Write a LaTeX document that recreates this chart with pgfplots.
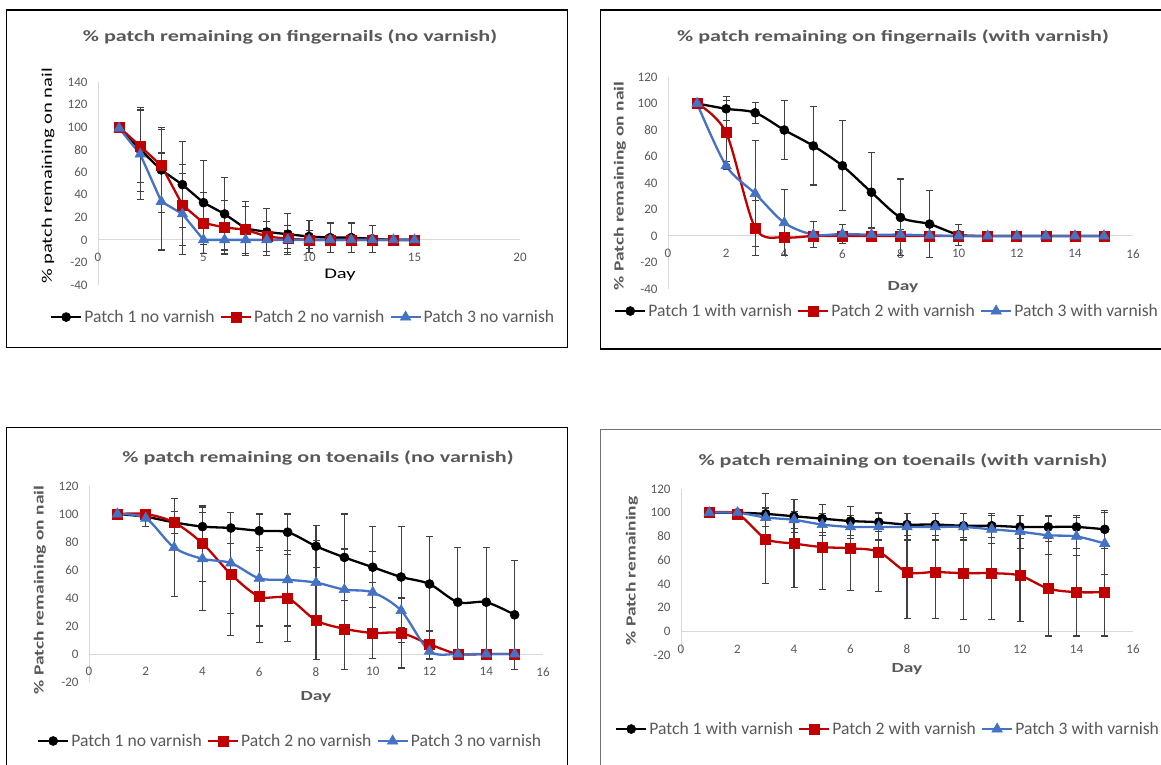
\documentclass[border=0pt]{standalone}
\usepackage{fontspec}
\setmainfont[FakeStretch=1.4]{Carlito}
\newfontfamily\plainfam{Carlito}
\usepackage{pgfplots}
\usepackage{pgfplotstable}
\pgfplotsset{compat=1.18}
\definecolor{txtgray}{HTML}{595959}
\definecolor{axisgray}{HTML}{D9D9D9}
\definecolor{errgray}{HTML}{404040}
\definecolor{cred}{HTML}{C00000}
\definecolor{cblue}{HTML}{4472C4}
\newcommand\titlefont{\fontsize{15.8}{18}\selectfont\bfseries}
\newcommand\lblfont{\fontsize{14.7}{17}\selectfont}
\newcommand\blblfont{\fontsize{13.9}{16}\selectfont\bfseries}
\newcommand\tickfont{\plainfam\fontsize{13}{15}\selectfont}
\newcommand\legfont{\plainfam\fontsize{17.6}{20}\selectfont}

% fingernails, no varnish
\pgfplotstableread{
x a ea b eb c ec
1 100 0 100 0 99 0
2 80 37 83 32 76 40
3 62 38 66 32 34 43
4 49 38 31 36 23 36
5 33 37 15 27 0 12
6 23 32 11 24 0 12
7 10 24 9 21 0 12
8 7 21 3 13 0 10
9 5 18 1 12 0 8
10 3 14 0 8 0 0
11 2 13 0 0 0 0
12 2 13 0 0 0 0
13 1 12 0 0 0 0
14 0 0 0 0 0 0
15 0 0 0 0 0 0
}\tA
% fingernails, with varnish
\pgfplotstableread{
x a ea b eb c ec
1 100 0 100 0 100 0
2 96 9 78 24 53 3
3 93 8 6 21 32 40
4 80 22 -1 0 10 25
5 68 29.5 0 0 1 10
6 53 34 0 0 1.5 7
7 33 30 0 0 1 5
8 14 29 0 0 1 4
9 9 25 0 0 0.5 0
10 1 8 0 0 0 0
11 0 0 0 0 0 0
12 0 0 0 0 0 0
13 0 0 0 0 0 0
14 0 0 0 0 0 0
15 0 0 0 0 0 0
}\tB
% toenails, no varnish
\pgfplotstableread{
x a ea b eb c ec
1 100 0 100 0 100 0
2 98 2 100 0 97 6
3 94 8 94 8 76 35
4 91 10 79 27 68 37
5 90 11 57 44 65 36
6 88 12 41 33 54 34
7 87 13 40 31 53 33
8 77 15 24 28 51 30
9 69 31 18 29 46 29
10 62 11 15 18 44 47
11 55 36 15 25 31 23
12 50 34 7 10 2 6
13 37 39 0 0 0 0
14 37 39 0 0 0 0
15 28 39 0 0 0 0
}\tC
% toenails, with varnish
\pgfplotstableread{
x a ea b eb c ec
1 100 0 100 0 100 0
2 100 1 99 1 100 1
3 99 5 78 38 96 8
4 97 14 74 37 94 7
5 95 12 71 36 90 9
6 93 12 70 35.5 88 10
7 92 8 67 33.5 88 11
8 90 9 50 39 88 11
9 90 9 50 39 88 11
10 89 10 49 39 88 11
11 89 10 49 39 86 12
12 88 10 47 39 84 14
13 88 10 36 40 81 16
14 88 10 33 37 80 16
15 86 16 33 37 74 26
}\tD

\pgfplotsset{
  panel/.style={
    scale only axis, anchor=south west,
    axis x line*=middle, axis y line*=left,
    axis line style={draw=axisgray, line width=1pt, -},
    tick style={draw=none}, major tick length=0pt,
    hide obscured x ticks=false, hide obscured y ticks=false,
    /pgf/number format/assume math mode=true,
    ticklabel style={font=\tickfont, text=txtgray},
    xticklabel style={yshift=-10pt},
    yticklabel style={xshift=-7pt},
    clip=false,
    legend columns=3,
    legend cell align=left,
    legend style={draw=none, fill=none, font=\legfont, text=txtgray, anchor=center,
      inner sep=0pt, nodes={inner xsep=2pt},
      /tikz/every even column/.append style={column sep=3pt}},
    legend image code/.code={%
      \draw[mark repeat=2,mark phase=2] plot coordinates {(0pt,0pt) (15pt,0pt) (30pt,0pt)};},
  },
  errs/.style={error bars/.cd, y dir=both, y explicit,
    error bar style={line width=1.1pt, draw=errgray, solid},
    error mark options={rotate=90, mark size=3.5pt, line width=1.1pt, draw=errgray}},
  s1/.style={black, line width=2.3pt, mark=*, mark size=4.5pt, mark options={solid, line width=0.6pt}},
  s2/.style={cred, line width=2.3pt, mark=square*, mark size=5pt, mark options={solid, line width=0.6pt}},
  s3/.style={cblue, line width=2.3pt, mark=triangle*, mark size=6pt, mark options={solid, line width=0.6pt}},
}

\begin{document}
\begin{tikzpicture}[x=1pt,y=1pt]
\useasboundingbox (0,0) rectangle (1161,764);
\fill[white] (0,0) rectangle (1161,764);
\clip (0,0) rectangle (1161,764);

% frames
\draw[black, line width=1.2pt] (6.5,754) rectangle (567.5,416.5);
\draw[black, line width=1.2pt] (600.5,754) rectangle (1175,415);
\draw[black, line width=1.2pt] (6.5,336.5) rectangle (567.5,-10);
\draw[black!55, line width=1.2pt] (600.5,334.5) rectangle (1175,-10);

% ---------- panel 1 ----------
\begin{axis}[panel, at={(98pt,479pt)}, width=422pt, height=203pt,
  xmin=0, xmax=20, ymin=-40, ymax=140, xtick={0,5,...,20}, ytick={-40,-20,...,140},
  legend style={at={(axis description cs:0.486,-0.158)}}]
\addplot[s1, errs] table[x=x,y=a,y error=ea]{\tA};
\addlegendentry{Patch 1 no varnish}
\addplot[s2, errs] table[x=x,y=b,y error=eb]{\tA};
\addlegendentry{Patch 2 no varnish}
\addplot[s3, errs] table[x=x,y=c,y error=ec]{\tA};
\addlegendentry{Patch 3 no varnish}
\end{axis}
\node[font=\titlefont, text=txtgray] at (290,727) {\% patch remaining on fingernails (no varnish)};
\node[font=\lblfont, rotate=90] at (48,588) {\% patch remaining on nail};
\node[font=\lblfont] at (340,489) {Day};

% ---------- panel 2 ----------
\begin{axis}[panel, at={(668pt,475pt)}, width=465pt, height=212pt,
  xmin=0, xmax=16, ymin=-40, ymax=120, xtick={0,2,...,16}, ytick={-40,-20,...,120},
  legend style={at={(axis description cs:0.471,-0.104)}}]
\addplot[s1, smooth, errs] table[x=x,y=a,y error=ea]{\tB};
\addlegendentry{Patch 1 with varnish}
\addplot[s2, smooth, errs] table[x=x,y=b,y error=eb]{\tB};
\addlegendentry{Patch 2 with varnish}
\addplot[s3, smooth, errs] table[x=x,y=c,y error=ec]{\tB};
\addlegendentry{Patch 3 with varnish}
\end{axis}
\node[font=\titlefont, text=txtgray] at (893,727) {\% patch remaining on fingernails (with varnish)};
\node[font=\blblfont, text=txtgray, rotate=90] at (620,578) {\% Patch remaining on nail};
\node[font=\blblfont, text=txtgray] at (903,477) {Day};

% ---------- panel 3 ----------
\begin{axis}[panel, at={(89pt,82pt)}, width=454pt, height=196pt,
  xmin=0, xmax=16, ymin=-20, ymax=120, xtick={0,2,...,16}, ytick={-20,0,...,120},
  legend style={at={(axis description cs:0.443,-0.301)}}]
\addplot[s1, smooth, errs] table[x=x,y=a,y error=ea]{\tC};
\addlegendentry{Patch 1 no varnish}
\addplot[s2, smooth, errs] table[x=x,y=b,y error=eb]{\tC};
\addlegendentry{Patch 2 no varnish}
\addplot[s3, smooth, errs] table[x=x,y=c,y error=ec]{\tC};
\addlegendentry{Patch 3 no varnish}
\end{axis}
\node[font=\titlefont, text=txtgray] at (318,306) {\% patch remaining on toenails (no varnish)};
\node[font=\blblfont, text=txtgray, rotate=90] at (40,174) {\% Patch remaining on nail};
\node[font=\blblfont, text=txtgray] at (316,67) {Day};

% ---------- panel 4 ----------
\begin{axis}[panel, at={(681pt,109pt)}, width=452pt, height=166pt,
  xmin=0, xmax=16, ymin=-20, ymax=120, xtick={0,2,...,16}, ytick={-20,0,...,120},
  legend style={at={(axis description cs:0.458,-0.446)}}]
\addplot[s1, smooth, errs] table[x=x,y=a,y error=ea]{\tD};
\addlegendentry{Patch 1 with varnish}
\addplot[s2, smooth, errs] table[x=x,y=b,y error=eb]{\tD};
\addlegendentry{Patch 2 with varnish}
\addplot[s3, smooth, errs] table[x=x,y=c,y error=ec]{\tD};
\addlegendentry{Patch 3 with varnish}
\end{axis}
\node[font=\titlefont, text=txtgray] at (903,303) {\% patch remaining on toenails (with varnish)};
\node[font=\blblfont, text=txtgray, rotate=90] at (632,193) {\% Patch remaining};
\node[font=\blblfont, text=txtgray] at (907,95) {Day};
\end{tikzpicture}
\end{document}
